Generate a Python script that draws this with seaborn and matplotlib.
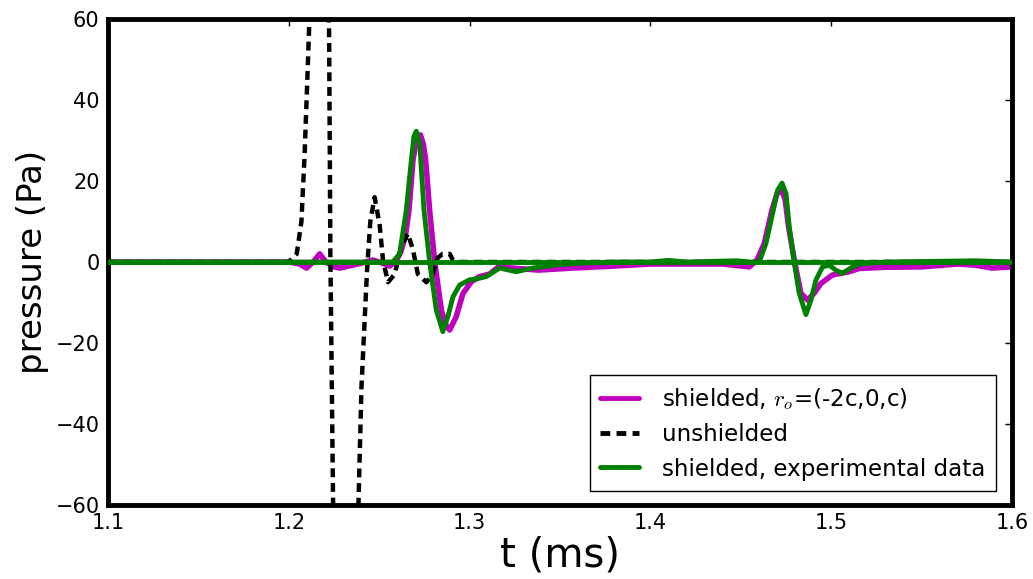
import matplotlib
matplotlib.use("Agg")
import matplotlib.pyplot as plt
import seaborn as sns
import pandas as pd
from matplotlib.lines import Line2D

# Model: shielded source at r_o = (-2c, 0, c)
t_model = [1.100, 1.200, 1.2060, 1.2098, 1.2135, 1.2171, 1.2205, 1.2250, 1.2282, 1.2330,
           1.2400, 1.2464, 1.2500, 1.2558, 1.2590, 1.2620, 1.2645, 1.2665, 1.2687, 1.2708,
           1.2728, 1.2745, 1.2757, 1.2779, 1.2807, 1.2844, 1.2868, 1.2890, 1.2926, 1.2963,
           1.3009, 1.3055, 1.3110, 1.3160, 1.3237, 1.3380, 1.3569, 1.3800, 1.4000, 1.4400,
           1.4547, 1.4590, 1.4630, 1.4672, 1.4700, 1.4722, 1.4745, 1.4764, 1.4799, 1.4832,
           1.4869, 1.4906, 1.4943, 1.5007, 1.5099, 1.5155, 1.5300, 1.5500, 1.5700, 1.5800,
           1.5890, 1.6000]
p_model = [0.0, 0.0, -0.5, -1.5, 0.0, 2.0, 0.0, -1.2, -1.5, -1.0,
           -0.3, 0.5, 0.0, -1.0, 0.0, 2.5, 6.5, 12.8, 25.2, 30.5,
           31.4, 29.0, 25.2, 12.8, 0.0, -11.9, -15.5, -16.8, -13.5, -7.8,
           -4.9, -3.6, -3.0, -1.2, -1.5, -2.0, -1.5, -1.0, -0.5, -0.5,
           -1.2, 0.5, 4.6, 12.8, 16.8, 18.1, 15.5, 8.7, -0.3, -7.7,
           -9.4, -7.7, -5.3, -3.2, -2.4, -1.6, -1.3, -1.2, -0.5, -0.8,
           -1.5, -1.2]

# Unshielded source
t_free = [1.100, 1.2000, 1.2044, 1.2070, 1.2088, 1.2101, 1.2112, 1.2140, 1.2168, 1.2195,
          1.2223, 1.2227, 1.2230, 1.2236, 1.2245, 1.2270, 1.2310, 1.2350, 1.2387, 1.2402,
          1.2420, 1.2433, 1.2451, 1.2475, 1.2503, 1.2521, 1.2549, 1.2586, 1.2623, 1.2659,
          1.2687, 1.2714, 1.2761, 1.2796, 1.2823, 1.2851, 1.2890, 1.2908, 1.2930, 1.6000]
p_free = [0.0, 0.0, 2.0, 10.0, 27.0, 43.0, 57.0, 110.0, 140.0, 110.0,
          57.0, 27.0, 2.0, -22.0, -59.0, -120.0, -160.0, -120.0, -57.0, -31.0,
          -14.0, -2.0, 10.0, 16.0, 9.0, 0.5, -5.0, -3.0, 4.0, 7.0,
          3.0, -3.0, -5.0, -3.0, 1.0, 2.0, 2.0, 0.5, 0.0, 0.0]

# Measured: shielded, experimental data
t_exp = [1.100, 1.200, 1.2575, 1.2613, 1.2650, 1.2678, 1.2692, 1.2705, 1.2724, 1.2748,
         1.2779, 1.2816, 1.2852, 1.2880, 1.2908, 1.2945, 1.3000, 1.3037, 1.3092, 1.3166,
         1.3258, 1.3348, 1.3479, 1.3600, 1.3800, 1.4000, 1.4100, 1.4200, 1.4479, 1.4550,
         1.4602, 1.4639, 1.4680, 1.4703, 1.4728, 1.4750, 1.4768, 1.4796, 1.4823, 1.4860,
         1.4888, 1.4915, 1.4952, 1.4989, 1.5025, 1.5062, 1.5118, 1.5155, 1.5300, 1.5800,
         1.6000]
p_exp = [0.0, 0.0, 0.0, 2.0, 12.8, 25.2, 31.0, 32.3, 29.4, 12.8,
         0.0, -11.9, -17.2, -13.5, -8.6, -5.7, -4.4, -4.2, -3.6, -1.5,
         -2.4, -1.5, -0.7, -0.3, 0.0, 0.0, 0.4, 0.0, 0.3, 0.0,
         0.0, 4.6, 12.8, 17.7, 19.5, 16.9, 8.7, -0.3, -7.7, -13.0,
         -9.4, -4.5, -1.2, -0.8, -2.0, -2.8, -1.2, -0.5, 0.0, 0.3,
         0.0]

x_ticks = [1.1, 1.2, 1.3, 1.4, 1.5, 1.6]
y_ticks = [-60, -40, -20, 0, 20, 40, 60]

sns.set_style("white")
plt.rcParams["font.family"] = ["DejaVu Sans"]
plt.rcParams["mathtext.fontset"] = "cm"

MAGENTA = (0.75, 0.0, 0.75)
GREEN = (0.0, 0.5, 0.0)

fig = plt.figure(figsize=(10.33, 5.79), dpi=100)
ax = fig.add_axes([0.1045, 0.128, 0.8752, 0.839])

df_model = pd.DataFrame({"t": t_model, "p": p_model})
df_free = pd.DataFrame({"t": t_free, "p": p_free})
df_exp = pd.DataFrame({"t": t_exp, "p": p_exp})

sns.lineplot(data=df_model, x="t", y="p", ax=ax, color=MAGENTA, lw=4,
             sort=False, estimator=None, zorder=2)
sns.lineplot(data=df_free, x="t", y="p", ax=ax, color="black", lw=3.2,
             sort=False, estimator=None, zorder=3)
ax.lines[-1].set_dashes((2.0, 1.3))
sns.lineplot(data=df_exp, x="t", y="p", ax=ax, color=GREEN, lw=3.5,
             sort=False, estimator=None, zorder=4)
ax.axhline(0, color=GREEN, lw=3.5, zorder=4)

ax.set_xlim(1.1, 1.6)
ax.set_ylim(-60, 60)
ax.set_xticks(x_ticks)
ax.set_xticklabels([f"{v:.1f}" for v in x_ticks])
ax.set_yticks(y_ticks)
ax.set_yticklabels([str(v).replace("-", "\u2212") for v in y_ticks])
ax.tick_params(axis="both", which="major", direction="in", length=5, width=1,
               labelsize=15, top=True, right=True, pad=6, colors="black")
for s in ax.spines.values():
    s.set_visible(True)
    s.set_linewidth(3.5)
    s.set_color("black")

ax.set_xlabel("t (ms)", fontsize=29, labelpad=2, color="black")
ax.set_ylabel("pressure (Pa)", fontsize=24.5, labelpad=5, color="black")

handles = [
    Line2D([], [], color=MAGENTA, lw=3.5),
    Line2D([], [], color="black", lw=3.5, dashes=(2.0, 1.3)),
    Line2D([], [], color=GREEN, lw=3.5),
]
labels = ["shielded, $r_o$=(-2c,0,c)", "unshielded", "shielded, experimental data"]
leg = ax.legend(handles, labels, loc="lower right", fontsize=16.6, frameon=True,
                fancybox=False, shadow=False, framealpha=1, edgecolor="black",
                handlelength=1.7, handletextpad=1.0, borderpad=0.45,
                labelspacing=0.5, bbox_to_anchor=(0.995, 0.005), borderaxespad=0.5)
leg.get_frame().set_linewidth(1.0)
for txt in leg.get_texts():
    txt.set_color("black")

fig.savefig("out.png", dpi=100)
